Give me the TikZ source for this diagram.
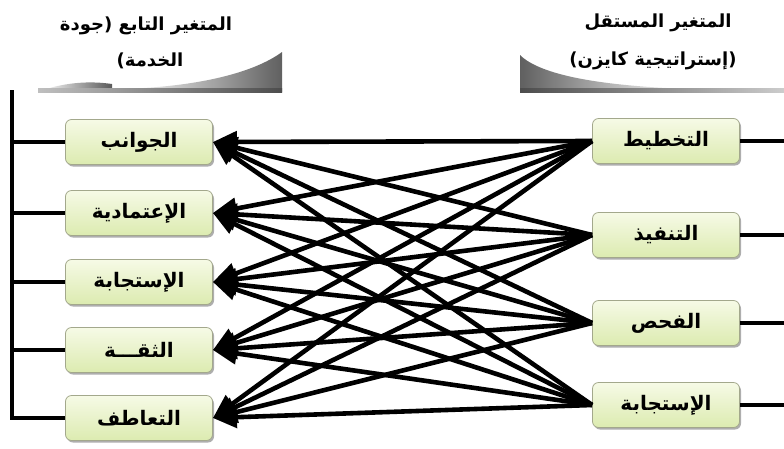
\documentclass[tikz,border=0pt]{standalone}
\usepackage{fontspec}
\usetikzlibrary{arrows.meta,shadows}
\TeXXeTstate=1
\newfontfamily\arabicfont[Script=Arabic]{DejaVu Sans}
\definecolor{boxtop}{HTML}{F6FAE6}
\definecolor{boxbot}{HTML}{DCEBB0}
\definecolor{boxline}{HTML}{A3A88C}
\tikzset{
  vbox/.style={draw=boxline, line width=0.8pt, rounded corners=6pt,
    top color=boxtop, bottom color=boxbot,
    minimum width=147pt, minimum height=45pt,
    font=\arabicfont\bfseries\fontsize{20}{24}\selectfont,
    drop shadow={shadow xshift=1.5pt, shadow yshift=-2pt, opacity=0.45, fill=black!70}},
  arr/.style={line width=4.6pt, -{Triangle[length=24pt,width=21pt]}},
  wire/.style={line width=4.5pt},
  head/.style={font=\arabicfont\bfseries\fontsize{18}{22}\selectfont, align=center}
}
\begin{document}
\begin{tikzpicture}[x=1pt,y=-1pt]
\useasboundingbox (0,0) rectangle (784,448);
% header bars
\shade[left color=white, right color=gray!75!black] (120,89) .. controls (200,87) and (255,72) .. (282,52) -- (282,92) -- (120,92) -- cycle;
\shade[left color=white, right color=gray!70!black] (40,91) .. controls (60,84) and (85,80) .. (112,84) -- (112,91) -- cycle;
\shade[left color=gray!50, right color=gray!60!black] (38,88.5) rectangle (282,92);
\shade[left color=gray!75!black, right color=white] (520,55) .. controls (540,75) and (600,86) .. (690,89) -- (690,92) -- (520,92) -- cycle;
\shade[left color=gray!60!black, right color=gray!40] (520,88.5) rectangle (784,92);
% header texts
\node[head] (hl1) at (146,26) {\beginR المتغير التابع (جودة\endR};
\node[head] (hl2) at (150,61) {\beginR الخدمة)\endR};
\node[head] (hr1) at (658,23) {\beginR المتغير المستقل\endR};
\node[head] (hr2) at (653,61) {\beginR (إستراتيجية كايزن)\endR};
% left boxes
\node[vbox] (l1) at (139,142) {\beginR الجوانب\endR};
\node[vbox] (l2) at (139,213) {\beginR الإعتمادية\endR};
\node[vbox] (l3) at (139,282) {\beginR الإستجابة\endR};
\node[vbox] (l4) at (139,350) {\beginR الثقـــة\endR};
\node[vbox] (l5) at (139,418) {\beginR التعاطف\endR};
% right boxes
\node[vbox] (r1) at (666,141) {\beginR التخطيط\endR};
\node[vbox] (r2) at (666,235) {\beginR التنفيذ\endR};
\node[vbox] (r3) at (666,323) {\beginR الفحص\endR};
\node[vbox] (r4) at (666,405) {\beginR الإستجابة\endR};
% left bracket
\coordinate (vt) at (12,90);
\draw[wire] (vt) -- (l5.west -| vt) -- (l5.west);
\foreach \i in {1,2,3,4} \draw[wire] (l\i.west -| vt) -- (l\i.west);
% right wires
\coordinate (re) at (784,0);
\foreach \i in {1,2,3,4} \draw[wire] (r\i.east) -- (r\i.east -| re);
% arrows
\foreach \i in {1,2,3,4}
  \foreach \j in {1,2,3,4,5}
    \draw[arr] (r\i.west) -- (l\j.east);
\end{tikzpicture}
\end{document}
